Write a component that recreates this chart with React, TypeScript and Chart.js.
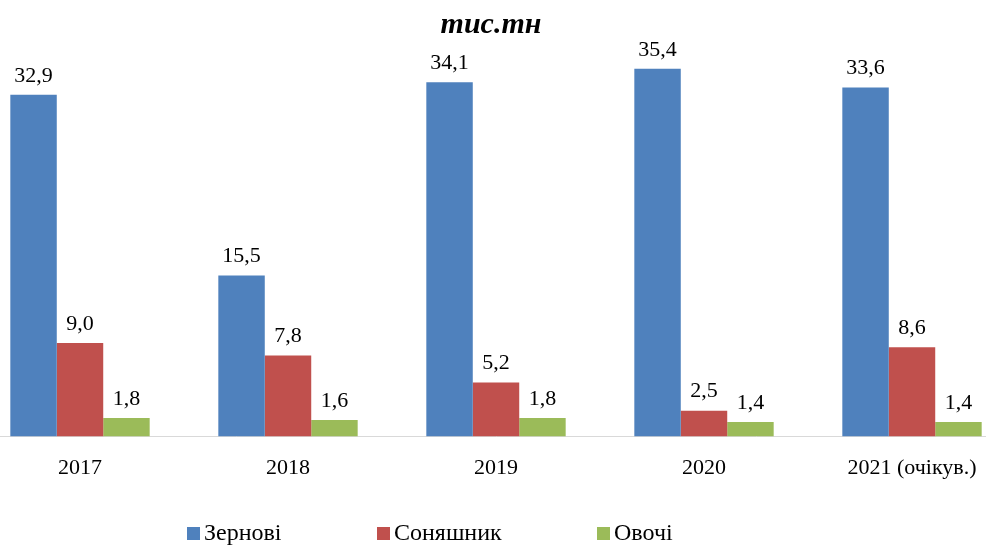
import React, { useEffect, useRef } from "react";
import { Chart, registerables } from "chart.js";

Chart.register(...registerables);

const categories = ["2017", "2018", "2019", "2020", "2021 (очікув.)"];
const grain = [32.9, 15.5, 34.1, 35.4, 33.6];
const sunflower = [9.0, 7.8, 5.2, 2.5, 8.6];
const vegetables = [1.8, 1.6, 1.8, 1.4, 1.4];
const seriesNames = ["Зернові", "Соняшник", "Овочі"];
const seriesColors = ["#4F81BD", "#C0504D", "#9BBB59"];
const titleText = "тис.тн";

const FONT = "'Liberation Serif', 'Times New Roman', serif";
const OFFSET = 24;
const legendX = [187, 377, 597];

const valueLabels = {
  id: "valueLabels",
  afterDatasetsDraw(chart: any) {
    const ctx = chart.ctx;
    ctx.save();
    ctx.font = `22px ${FONT}`;
    ctx.fillStyle = "#000";
    ctx.textAlign = "center";
    ctx.textBaseline = "bottom";
    chart.data.datasets.forEach((ds: any, i: number) => {
      const meta = chart.getDatasetMeta(i);
      meta.data.forEach((bar: any, j: number) => {
        const v = ds.data[j] as number;
        ctx.fillText(v.toFixed(1).replace(".", ","), bar.x, bar.y - 8);
      });
    });
    ctx.restore();
  },
};

const titleAndLegend = {
  id: "titleAndLegend",
  afterDraw(chart: any) {
    const ctx = chart.ctx;
    ctx.save();
    ctx.fillStyle = "#000";
    ctx.textAlign = "center";
    ctx.textBaseline = "middle";
    ctx.font = `italic bold 30px ${FONT}`;
    ctx.fillText(titleText, 491 + OFFSET, 25);
    ctx.font = `24px ${FONT}`;
    ctx.textAlign = "left";
    chart.data.datasets.forEach((ds: any, i: number) => {
      const x = legendX[i] + OFFSET;
      ctx.fillStyle = ds.backgroundColor;
      ctx.fillRect(x, 527, 13, 13);
      ctx.fillStyle = "#000";
      ctx.fillText(ds.label, x + 17, 534);
    });
    ctx.restore();
  },
};

export default function App() {
  const ref = useRef<HTMLCanvasElement | null>(null);
  useEffect(() => {
    if (!ref.current) return;
    const chart = new Chart(ref.current, {
      type: "bar",
      data: {
        labels: categories,
        datasets: [grain, sunflower, vegetables].map((d, i) => ({
          label: seriesNames[i],
          data: d,
          backgroundColor: seriesColors[i],
          borderWidth: 0,
          categoryPercentage: 0.67,
          barPercentage: 1.0,
        })),
      },
      options: {
        animation: false,
        responsive: true,
        maintainAspectRatio: false,
        layout: { padding: { top: 21, left: 0, right: 0, bottom: 46 } },
        plugins: {
          legend: { display: false },
          title: { display: false },
          tooltip: { enabled: false },
        },
        scales: {
          x: {
            grid: { display: false, drawTicks: false },
            border: { display: true, color: "#d9d9d9" },
            ticks: {
              color: "#000",
              padding: 18,
              maxRotation: 0,
              font: { family: FONT, size: 22 },
            },
          },
          y: {
            display: false,
            min: 0,
            max: 40,
          },
        },
      },
      plugins: [valueLabels, titleAndLegend],
    });
    return () => chart.destroy();
  }, []);

  return (
    <div
      style={{
        position: "fixed",
        left: 0,
        top: 0,
        width: 986,
        height: 545,
        overflow: "hidden",
        background: "#fff",
      }}
    >
      <div
        style={{
          position: "absolute",
          left: -OFFSET,
          top: 0,
          width: 1040,
          height: 545,
        }}
      >
        <canvas ref={ref} />
      </div>
    </div>
  );
}
